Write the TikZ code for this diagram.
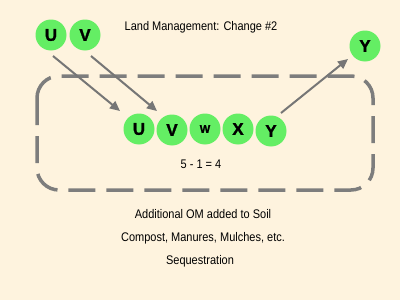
\documentclass[tikz,border=0pt]{standalone}
\usepackage{fontspec}
\usepackage{graphicx}
\setmainfont{Liberation Sans}
\newfontfamily\heavyfont{Liberation Sans}[BoldFeatures={FakeBold=1.5}]
\usetikzlibrary{arrows.meta}
\definecolor{bg}{RGB}{254,243,222}
\definecolor{ball}{RGB}{100,238,100}
\definecolor{boxgray}{RGB}{125,125,125}
\definecolor{arrgray}{RGB}{118,118,118}
\newcommand{\sq}[1]{\scalebox{0.88}[1]{#1}}
\tikzset{
  ballnode/.style={circle,fill=ball,text=black,minimum size=31pt,inner sep=0pt,font=\fontsize{17}{17}\heavyfont\bfseries\selectfont},
  smallball/.style={ballnode,font=\fontsize{11}{11}\heavyfont\bfseries\selectfont},
  txt/.style={text=black,font=\fontsize{12.5}{14}\selectfont,inner sep=0pt},
  movearrow/.style={draw=arrgray,line width=2pt,-{Triangle[length=10pt,width=9pt]}},
  dashbox/.style={draw=boxgray,line width=3.5pt,dash pattern=on 27pt off 11pt,rounded corners=22pt}
}
\begin{document}
\begin{tikzpicture}[x=1pt,y=-1pt]
\fill[bg] (0,0) rectangle (400,300);
\useasboundingbox (0,0) rectangle (400,300);
% dashed box
\draw[dashbox] (37,76) rectangle (373,190);
% balls
\node[ballnode] (u0) at (51,35) {U};
\node[ballnode] (v0) at (85,35) {V};
\node[ballnode] (u1) at (139,129) {U};
\node[ballnode] (v1) at (172,130) {V};
\node[smallball] (w1) at (205,129) {W};
\node[ballnode] (x1) at (238,129) {X};
\node[ballnode] (y1) at (271,131) {Y};
\node[ballnode] (y2) at (365,46) {Y};
% arrow coordinates
\coordinate (a1s) at (53,56);
\coordinate (a1e) at (120,111);
\coordinate (a2s) at (91,56);
\coordinate (a2e) at (157,111);
\coordinate (a3s) at (281,113);
\coordinate (a3e) at (348,59);
\draw[movearrow] (a1s) -- (a1e);
\draw[movearrow] (a2s) -- (a2e);
\draw[movearrow] (a3s) -- (a3e);
% texts
\node[txt] (title) at (201,27) {\sq{Land Management: Change \#2}};
\node[txt] (eq) at (201,164) {\sq{5 - 1 = 4}};
\node[txt] (l1) at (203,214) {\sq{Additional OM added to Soil}};
\node[txt] (l2) at (203,238) {\sq{Compost, Manures, Mulches, etc.}};
\node[txt] (l3) at (200,261) {\sq{Sequestration}};
\end{tikzpicture}
\end{document}
